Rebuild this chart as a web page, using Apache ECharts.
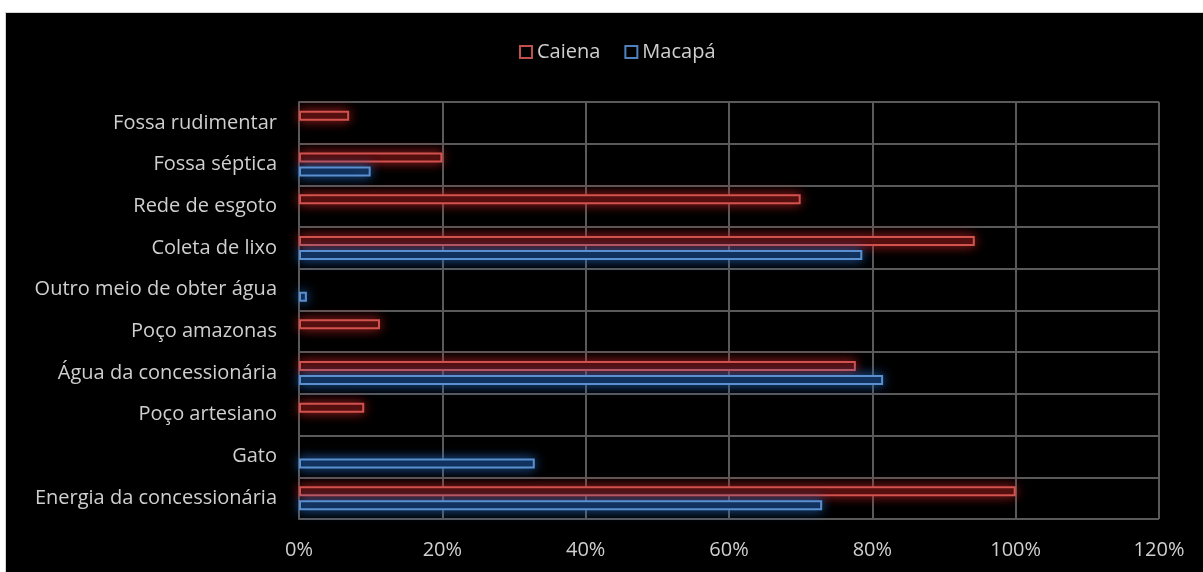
<!DOCTYPE html>
<html>
<head>
<meta charset="utf-8">
<script src="https://cdn.jsdelivr.net/npm/echarts@6/dist/echarts.min.js"></script>
<style>
  html, body { margin: 0; padding: 0; background: #ffffff; }
  #frame {
    position: absolute; left: 5px; top: 12px;
    width: 1197px; height: 559px;
    border-left: 1px solid #d4d4d4; border-top: 1px solid #d4d4d4;
    background: #000000;
  }
  #chart { width: 1197px; height: 559px; }
</style>
</head>
<body>
<div id="frame"><div id="chart"></div></div>
<script>
// Infrastructure indicators, share of households (%)
const categories = [
  'Fossa rudimentar',
  'Fossa séptica',
  'Rede de esgoto',
  'Coleta de lixo',
  'Outro meio de obter água',
  'Poço amazonas',
  'Água da concessionária',
  'Poço artesiano',
  'Gato',
  'Energia da concessionária'
];
const caiena = [7, 20, 70, 94.3, 0, 11.3, 77.7, 9.1, 0, 100];
const macapa = [0, 10, 0, 78.6, 1.1, 0, 81.5, 0, 32.9, 73];
const xTicks = [0, 20, 40, 60, 80, 100, 120];

const textColor = '#cfcfcf';
const gridColor = '#5a5a5a';
const fontFamily = '"Open Sans", Lato, sans-serif';

function barSeries(name, values, edge, fill, glow) {
  return {
    name: name,
    type: 'bar',
    data: values.map(v => (v === 0 ? null : v)),
    barWidth: 10,
    barGap: '40%',
    itemStyle: {
      color: fill,
      borderColor: edge,
      borderWidth: 2,
      shadowBlur: 12,
      shadowColor: glow
    }
  };
}

const chart = echarts.init(document.getElementById('chart'));
chart.setOption({
  backgroundColor: '#000000',
  animation: false,
  textStyle: { fontFamily: fontFamily },
  legend: {
    top: 24,
    left: 508,
    itemWidth: 12,
    itemHeight: 12,
    itemGap: 24,
    itemTextGap: 6,
    textStyle: { color: textColor, fontSize: 20, fontFamily: fontFamily },
    data: [
      { name: 'Caiena', icon: 'rect', itemStyle: { color: 'transparent', borderColor: '#c0504d', borderWidth: 2 } },
      { name: 'Macapá', icon: 'rect', itemStyle: { color: 'transparent', borderColor: '#4f81bd', borderWidth: 2 } }
    ]
  },
  grid: { left: 293, right: 44, top: 89, bottom: 53, containLabel: false },
  xAxis: {
    type: 'value',
    min: xTicks[0],
    max: xTicks[xTicks.length - 1],
    interval: 20,
    axisLine: { show: false },
    axisTick: { show: false },
    axisLabel: {
      color: textColor, fontSize: 20, margin: 21, fontFamily: fontFamily,
      formatter: v => v + '%'
    },
    splitLine: { show: true, lineStyle: { color: gridColor, width: 2 } }
  },
  yAxis: {
    type: 'category',
    inverse: true,
    data: categories,
    axisLine: { show: true, lineStyle: { color: gridColor, width: 2 } },
    axisTick: { show: false },
    axisLabel: { color: textColor, fontSize: 20, margin: 22, fontFamily: fontFamily },
    splitLine: { show: true, lineStyle: { color: gridColor, width: 2 } }
  },
  series: [
    barSeries('Caiena', caiena, '#d2524e', '#3d0a0a', 'rgba(200,40,40,0.8)'),
    barSeries('Macapá', macapa, '#5a8fd0', '#0d2648', 'rgba(40,110,200,0.8)')
  ]
});
</script>
</body>
</html>
